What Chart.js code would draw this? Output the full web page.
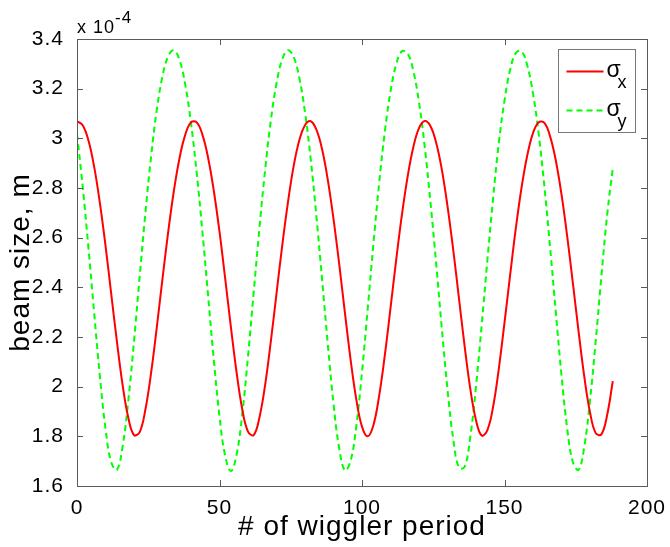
<!DOCTYPE html>
<html>
<head>
<meta charset="utf-8">
<script src="https://cdn.jsdelivr.net/npm/chart.js@4"></script>
<style>
  html, body { margin: 0; padding: 0; background: #fff; }
</style>
</head>
<body>
<canvas id="chart" width="670" height="547"></canvas>
<script>
// wiggler period index
const periods = [
  0, 2, 4, 6, 8, 10, 12, 14, 16, 18,
  20, 22, 24, 26, 28, 30, 32, 34, 36, 38,
  40, 42, 44, 46, 48, 50, 52, 54, 56, 58,
  60, 62, 64, 66, 68, 70, 72, 74, 76, 78,
  80, 82, 84, 86, 88, 90, 92, 94, 96, 98,
  100, 102, 104, 106, 108, 110, 112, 114, 116, 118,
  120, 122, 124, 126, 128, 130, 132, 134, 136, 138,
  140, 142, 144, 146, 148, 150, 152, 154, 156, 158,
  160, 162, 164, 166, 168, 170, 172, 174, 176, 178,
  180, 182, 184, 186, 188
];

// beam sizes in units of 1e-4 m
const sigmaX = [
  3.069, 3.053, 2.992, 2.887, 2.742, 2.568, 2.375, 2.182, 2.007, 1.875,
  1.805, 1.817, 1.908, 2.056, 2.239, 2.435, 2.623, 2.789, 2.922, 3.015,
  3.064, 3.064, 3.015, 2.922, 2.789, 2.624, 2.435, 2.240, 2.057, 1.908,
  1.819, 1.805, 1.875, 2.006, 2.181, 2.375, 2.567, 2.741, 2.887, 2.992,
  3.053, 3.069, 3.035, 2.956, 2.833, 2.676, 2.494, 2.298, 2.109, 1.949,
  1.839, 1.800, 1.845, 1.962, 2.126, 2.316, 2.511, 2.692, 2.845, 2.964,
  3.041, 3.070, 3.050, 2.983, 2.875, 2.727, 2.552, 2.358, 2.164, 1.991,
  1.865, 1.803, 1.825, 1.919, 2.072, 2.258, 2.452, 2.640, 2.803, 2.932,
  3.021, 3.065, 3.062, 3.008, 2.911, 2.774, 2.605, 2.416, 2.222, 2.040,
  1.897, 1.813, 1.808, 1.885, 2.022
];

const sigmaY = [
  3.017, 2.806, 2.561, 2.300, 2.046, 1.831, 1.696, 1.665, 1.759, 1.944,
  2.183, 2.445, 2.699, 2.927, 3.115, 3.250, 3.331, 3.354, 3.315, 3.215,
  3.061, 2.861, 2.624, 2.366, 2.108, 1.881, 1.721, 1.660, 1.726, 1.891,
  2.121, 2.380, 2.637, 2.872, 3.071, 3.221, 3.318, 3.355, 3.328, 3.244,
  3.105, 2.917, 2.686, 2.431, 2.171, 1.932, 1.752, 1.663, 1.701, 1.841,
  2.058, 2.313, 2.574, 2.817, 3.026, 3.188, 3.298, 3.351, 3.342, 3.272,
  3.145, 2.967, 2.746, 2.498, 2.235, 1.989, 1.790, 1.674, 1.677, 1.798,
  2.001, 2.249, 2.510, 2.759, 2.981, 3.152, 3.277, 3.344, 3.350, 3.293,
  3.181, 3.017, 2.806, 2.561, 2.300, 2.046, 1.831, 1.696, 1.665, 1.759,
  1.944, 2.183, 2.445, 2.690, 2.880
];

const xTicks = [0, 50, 100, 150, 200];
const yTicks = [1.6, 1.8, 2.0, 2.2, 2.4, 2.6, 2.8, 3.0, 3.2, 3.4];
const yExponent = ['x 10', '-4'];
const legendNames = [['σ', 'x'], ['σ', 'y']];

const FONT = "'Liberation Sans', Arial, Helvetica, sans-serif";
const AXIS_GRAY = '#5a5a5a';

const toPoints = ys => periods.map((p, i) => ({ x: p, y: ys[i] }));

// the reference text is rendered a bit loose
const spacing = {
  id: 'spacing',
  beforeUpdate(chart) { chart.ctx.letterSpacing = '1px'; },
  beforeDraw(chart) { chart.ctx.letterSpacing = '1px'; }
};

const matlabLook = {
  id: 'matlabLook',
  afterDatasetsDraw(chart) {
    const { ctx, chartArea: a, scales: { x, y } } = chart;
    ctx.save();
    ctx.strokeStyle = AXIS_GRAY;
    ctx.lineWidth = 1;
    ctx.beginPath();
    x.ticks.forEach(t => {
      const px = Math.round(x.getPixelForValue(t.value)) + 0.5;
      ctx.moveTo(px, a.bottom); ctx.lineTo(px, a.bottom - 6);
      ctx.moveTo(px, a.top); ctx.lineTo(px, a.top + 6);
    });
    y.ticks.forEach(t => {
      const py = Math.round(y.getPixelForValue(t.value)) + 0.5;
      ctx.moveTo(a.left, py); ctx.lineTo(a.left + 6, py);
      ctx.moveTo(a.right, py); ctx.lineTo(a.right - 6, py);
    });
    ctx.stroke();
    ctx.strokeRect(Math.round(a.left) + 0.5, Math.round(a.top) + 0.5,
      Math.round(a.width), Math.round(a.height));

    // exponent label above the y axis
    ctx.fillStyle = '#000';
    ctx.textBaseline = 'alphabetic';
    ctx.font = '18px ' + FONT;
    ctx.fillText(yExponent[0], a.left, a.top - 6);
    const w = ctx.measureText(yExponent[0]).width;
    ctx.font = '17px ' + FONT;
    ctx.fillText(yExponent[1], a.left + w, a.top - 16);

    // legend box
    const bx = Math.round(a.right) - 89 + 0.5, by = Math.round(a.top) + 10 + 0.5;
    ctx.fillStyle = '#fff';
    ctx.fillRect(bx, by, 77, 83);
    ctx.strokeStyle = '#777';
    ctx.strokeRect(bx, by, 77, 83);
    chart.data.datasets.forEach((ds, i) => {
      const ly = by + 22 + i * 39;
      ctx.strokeStyle = ds.borderColor;
      ctx.lineWidth = 2;
      ctx.setLineDash(ds.borderDash || []);
      ctx.beginPath();
      ctx.moveTo(bx + 8, ly); ctx.lineTo(bx + 45, ly);
      ctx.stroke();
      ctx.setLineDash([]);
      ctx.fillStyle = '#000';
      ctx.font = '23px ' + FONT;
      ctx.fillText(legendNames[i][0], bx + 48, ly + 5);
      ctx.font = '18px ' + FONT;
      ctx.fillText(legendNames[i][1], bx + 59, ly + 16);
    });
    ctx.restore();
  }
};

new Chart(document.getElementById('chart'), {
  type: 'line',
  data: {
    datasets: [
      {
        label: 'σx',
        data: toPoints(sigmaX),
        borderColor: '#ff0000',
        borderWidth: 2,
        pointRadius: 0,
        tension: 0.4
      },
      {
        label: 'σy',
        data: toPoints(sigmaY),
        borderColor: '#00ff00',
        borderWidth: 2,
        borderDash: [6, 4],
        pointRadius: 0,
        tension: 0.4
      }
    ]
  },
  options: {
    responsive: false,
    animation: false,
    layout: { padding: { top: 39, right: 23, left: 0, bottom: 0 } },
    plugins: { legend: { display: false }, tooltip: { enabled: false } },
    scales: {
      x: {
        type: 'linear',
        min: 0, max: 200,
        afterBuildTicks: s => { s.ticks = xTicks.map(v => ({ value: v })); },
        afterFit: s => { s.height = 61; },
        grid: { display: false },
        border: { display: false },
        ticks: { color: '#000', font: { family: FONT, size: 21 }, padding: 2, maxRotation: 0 },
        title: {
          display: true, text: '# of wiggler period', color: '#000',
          font: { family: FONT, size: 28 }, padding: { top: 0, bottom: 3 }
        }
      },
      y: {
        min: 1.6, max: 3.4,
        afterBuildTicks: s => { s.ticks = yTicks.map(v => ({ value: v })); },
        afterFit: s => { s.width = 77; },
        grid: { display: false },
        border: { display: false },
        ticks: {
          color: '#000', font: { family: FONT, size: 21 }, padding: 5,
          callback: v => String(Number(v.toFixed(1)))
        },
        title: {
          display: true, text: 'beam size, m', color: '#000',
          font: { family: FONT, size: 28 }, padding: { top: 4, bottom: 0 }
        }
      }
    }
  },
  plugins: [spacing, matlabLook]
});
</script>
</body>
</html>
